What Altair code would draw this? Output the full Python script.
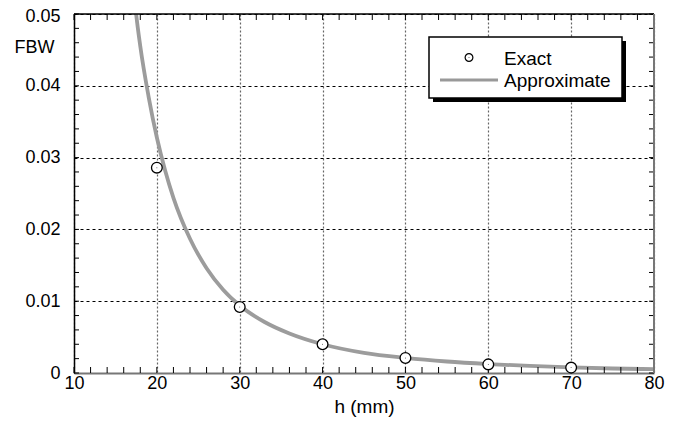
import altair as alt
import pandas as pd

# Exact values
exact_h = [20, 30, 40, 50, 60, 70]
exact_fbw = [0.0286, 0.0092, 0.0040, 0.0021, 0.0012, 0.00075]

# Approximate curve
approx_h = [17.0, 17.5, 18, 19, 20, 21, 22, 24, 26, 28, 30, 33, 36, 40, 45, 50, 55, 60, 65, 70, 75, 80]
approx_fbw = [0.056, 0.0500, 0.0455, 0.0385, 0.0328, 0.0282, 0.0244, 0.0187, 0.0146, 0.0116, 0.0094,
              0.0071, 0.0055, 0.0040, 0.0028, 0.0021, 0.0016, 0.00125, 0.00098, 0.00078, 0.00063, 0.00053]

x_major = [10, 20, 30, 40, 50, 60, 70, 80]
y_major = [0, 0.01, 0.02, 0.03, 0.04, 0.05]
x_minor = list(range(10, 81, 2))
y_minor = [i * 0.002 for i in range(26)]

W, H = 580, 359
FONT = "Liberation Sans"

df_exact = pd.DataFrame({"h": exact_h, "fbw": exact_fbw})
df_approx = pd.DataFrame({"h": approx_h, "fbw": approx_fbw})
df_xt = pd.DataFrame({"h": x_minor})
df_yt = pd.DataFrame({"fbw": y_minor})
one = pd.DataFrame({"a": [0]})

xs = alt.Scale(domain=[10, 80], nice=False, zero=False)
ys = alt.Scale(domain=[0, 0.05], nice=False)

xaxis = alt.Axis(values=x_major, ticks=False, grid=True, gridColor="#666666", gridDash=[2, 2],
                 gridWidth=1.2, domainColor="#777777", domainWidth=2, labelFontSize=18,
                 labelFont=FONT, labelColor="black", labelPadding=1, title="h (mm)",
                 titleFont=FONT, titleFontSize=19, titleFontWeight="normal", titleColor="black",
                 titlePadding=5, labelFlush=False)
yaxis = alt.Axis(values=y_major, ticks=False, grid=True, gridColor="black", gridDash=[3, 3],
                 gridWidth=1, domainColor="black", domainWidth=1.5, labelFontSize=18,
                 labelFont=FONT, labelColor="black", labelPadding=14, format="~g", title="FBW",
                 labelOffset={"condition": {"test": "datum.value >= 0.05", "value": 2}, "value": 0},
                 titleFont=FONT, titleFontSize=18, titleFontWeight="normal", titleColor="black",
                 titleAngle=0, titleX=-60, titleY=33, titleAlign="left", titleBaseline="middle",
                 labelFlush=False)

curve = alt.Chart(df_approx).mark_line(color="#9c9c9c", strokeWidth=3.8, clip=True,
                                        interpolate="monotone").encode(
    x=alt.X("h:Q", scale=xs, axis=xaxis),
    y=alt.Y("fbw:Q", scale=ys, axis=yaxis),
)
pts = alt.Chart(df_exact).mark_point(shape="circle", size=115, fill="white", filled=False,
                                     stroke="black", strokeWidth=1.3, opacity=1).encode(
    x=alt.X("h:Q", scale=xs), y=alt.Y("fbw:Q", scale=ys))
dots = alt.Chart(df_exact).mark_point(shape="circle", size=1, filled=True, color="black").encode(
    x=alt.X("h:Q", scale=xs), y=alt.Y("fbw:Q", scale=ys))

# inward ticks
bt = alt.Chart(df_xt).mark_rule(color="black", strokeWidth=1).encode(
    x=alt.X("h:Q", scale=xs), y=alt.value(H), y2=alt.value(H - 6))
tt = alt.Chart(df_xt).mark_rule(color="black", strokeWidth=1).encode(
    x=alt.X("h:Q", scale=xs), y=alt.value(0), y2=alt.value(6))
lt = alt.Chart(df_yt).mark_rule(color="black", strokeWidth=1).encode(
    y=alt.Y("fbw:Q", scale=ys), x=alt.value(0), x2=alt.value(5))
rt = alt.Chart(df_yt).mark_rule(color="black", strokeWidth=1).encode(
    y=alt.Y("fbw:Q", scale=ys), x=alt.value(W), x2=alt.value(W - 5))

# frame top/right
top = alt.Chart(one).mark_rule(color="black", strokeWidth=1.5).encode(
    x=alt.value(0), x2=alt.value(W), y=alt.value(0))
right = alt.Chart(one).mark_rule(color="#777777", strokeWidth=2).encode(
    x=alt.value(W), y=alt.value(0), y2=alt.value(H))

# legend
LX0, LY0, LX1, LY1 = 355, 23, 548, 84
shadow = alt.Chart(one).mark_rect(color="black").encode(
    x=alt.value(LX0 + 4), x2=alt.value(LX1 + 4), y=alt.value(LY0 + 4), y2=alt.value(LY1 + 4))
box = alt.Chart(one).mark_rect(fill="white", stroke="black", strokeWidth=1.5).encode(
    x=alt.value(LX0), x2=alt.value(LX1), y=alt.value(LY0), y2=alt.value(LY1))
lg_pt = alt.Chart(one).mark_point(shape="circle", size=60, filled=False, stroke="black",
                                  strokeWidth=1.2, opacity=1).encode(
    x=alt.value(395), y=alt.value(43.5))
lg_dot = alt.Chart(one).mark_point(shape="circle", size=1, filled=True, color="black").encode(
    x=alt.value(395), y=alt.value(43.5))
lg_line = alt.Chart(one).mark_rule(color="#999999", strokeWidth=3).encode(
    x=alt.value(366), x2=alt.value(424), y=alt.value(66))
t1 = alt.Chart(one).mark_text(text="Exact", font=FONT, fontSize=19, align="left",
                              baseline="middle", color="black").encode(
    x=alt.value(430), y=alt.value(45))
t2 = alt.Chart(one).mark_text(text="Approximate", font=FONT, fontSize=19, align="left",
                              baseline="middle", color="black").encode(
    x=alt.value(430), y=alt.value(67))

chart = alt.layer(curve, bt, tt, lt, rt, top, right, pts, dots,
                  shadow, box, lg_pt, lg_dot, lg_line, t1, t2).properties(
    width=W, height=H,
    autosize=alt.AutoSizeParams(type="none"),
    padding={"left": 66, "top": 6, "right": 18, "bottom": 51},
).configure_view(stroke=None).configure(background="white")

chart.save("out.html", embed_options={"renderer": "svg", "actions": False})
